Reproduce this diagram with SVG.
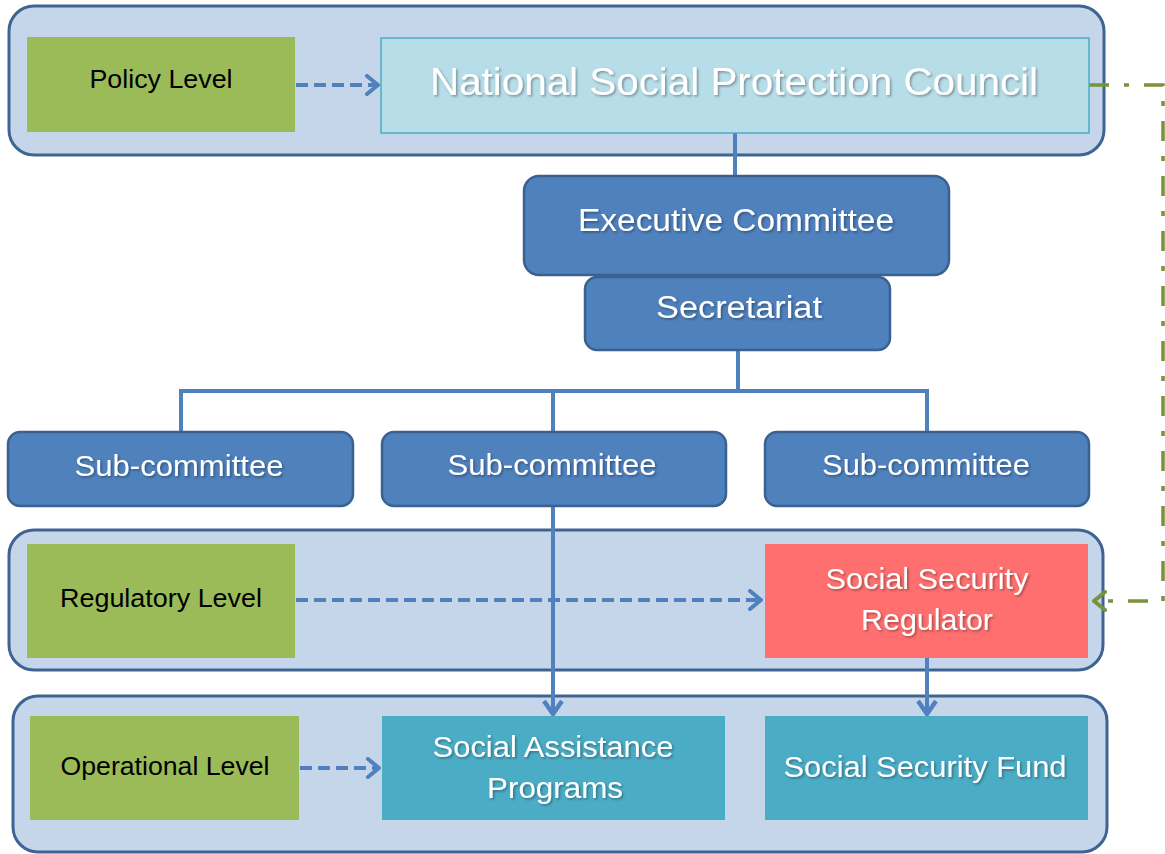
<svg xmlns="http://www.w3.org/2000/svg" width="1165" height="854" viewBox="0 0 1165 854">
<style>
.panel{fill:#C5D5EA;stroke:#3E6493;stroke-width:3}
.lvl{fill:#9BBB59}
.lvlt{font-family:"Liberation Sans",Arial,sans-serif;font-size:25px;fill:#000;text-anchor:middle}
.blue{fill:#4F81BD;stroke:#3A6190;stroke-width:2.5}
.wt{font-family:"Liberation Sans",Arial,sans-serif;fill:#fff;text-anchor:middle;filter:url(#ts)}
.conn{fill:none;stroke:#4F81BD;stroke-width:4}
.dash{fill:none;stroke:#4F81BD;stroke-width:4;stroke-dasharray:12 6}
.green{fill:none;stroke:#77933C;stroke-width:3.5;stroke-dasharray:20 15 5 15}
</style>
<defs>
<filter id="ts" x="-5%" y="-20%" width="110%" height="140%">
<feDropShadow dx="1.5" dy="1.5" stdDeviation="0.8" flood-color="#000" flood-opacity="0.35"/>
</filter>
<marker id="ab" viewBox="0 0 16 22" refX="14" refY="11" markerWidth="16" markerHeight="22" markerUnits="userSpaceOnUse" orient="auto">
<path d="M3,2 L14,11 L3,20" fill="none" stroke="#4F81BD" stroke-width="4" stroke-linecap="round" stroke-linejoin="round"/>
</marker>
<marker id="abv" viewBox="0 0 18 22" refX="16" refY="11" markerWidth="18" markerHeight="22" markerUnits="userSpaceOnUse" orient="auto">
<path d="M3,2 L16,11 L3,20" fill="none" stroke="#4F81BD" stroke-width="4.5" stroke-linejoin="miter"/>
</marker>
<marker id="ag" viewBox="0 0 16 22" refX="14" refY="11" markerWidth="16" markerHeight="22" markerUnits="userSpaceOnUse" orient="auto">
<path d="M3,2 L14,11 L3,20" fill="none" stroke="#77933C" stroke-width="4" stroke-linecap="round" stroke-linejoin="round"/>
</marker>
</defs>

<g id="panel-policy"><rect class="panel" x="9" y="6" width="1095" height="149" rx="25"/></g>
<g id="panel-regulatory"><rect class="panel" x="9" y="530" width="1094" height="140" rx="25"/></g>
<g id="panel-operational"><rect class="panel" x="13" y="696" width="1094" height="156" rx="25"/></g>

<g id="connectors">
<line class="dash" x1="296" y1="85" x2="378" y2="85" marker-end="url(#ab)"/>
<line class="dash" x1="296" y1="600" x2="761" y2="600" marker-end="url(#ab)"/>
<line class="dash" x1="300" y1="768" x2="379" y2="768" marker-end="url(#ab)"/>
<line class="conn" x1="735" y1="133" x2="735" y2="177"/>
<polyline class="conn" points="738,350 738,389"/>
<polyline class="conn" points="181,432 181,391 927,391 927,432"/>
<line class="conn" x1="553" y1="391" x2="553" y2="432"/>
<line class="conn" x1="553" y1="506" x2="553" y2="714" marker-end="url(#abv)"/>
<line class="conn" x1="927" y1="658" x2="927" y2="714" marker-end="url(#abv)"/>
<polyline class="green" points="1089,85 1163,85 1163,601 1094,601" marker-end="url(#ag)"/>
</g>

<g id="policy-level"><rect class="lvl" x="27" y="37" width="268" height="95"/><text class="lvlt" x="161" y="88" textLength="143" lengthAdjust="spacingAndGlyphs">Policy Level</text></g>
<g id="nspc"><rect x="381" y="38" width="708" height="95" fill="#B7DDE8" stroke="#4BACC6" stroke-width="1.5"/><text class="wt" x="734" y="95" font-size="39" textLength="608" lengthAdjust="spacingAndGlyphs">National Social Protection Council</text></g>
<g id="exec"><rect class="blue" x="524" y="176" width="425" height="99" rx="15"/><text class="wt" x="736" y="231" font-size="31" textLength="316" lengthAdjust="spacingAndGlyphs">Executive Committee</text></g>
<g id="secretariat"><rect class="blue" x="585" y="277" width="305" height="73" rx="12"/><text class="wt" x="739" y="318" font-size="31" textLength="166" lengthAdjust="spacingAndGlyphs">Secretariat</text></g>
<g id="sub1"><rect class="blue" x="8" y="432" width="345" height="74" rx="12"/><text class="wt" x="179" y="476" font-size="29" textLength="209" lengthAdjust="spacingAndGlyphs">Sub-committee</text></g>
<g id="sub2"><rect class="blue" x="382" y="432" width="344" height="74" rx="12"/><text class="wt" x="552" y="475" font-size="29" textLength="209" lengthAdjust="spacingAndGlyphs">Sub-committee</text></g>
<g id="sub3"><rect class="blue" x="765" y="432" width="324" height="74" rx="12"/><text class="wt" x="926" y="475" font-size="29" textLength="208" lengthAdjust="spacingAndGlyphs">Sub-committee</text></g>
<g id="regulatory-level"><rect class="lvl" x="27" y="544" width="268" height="114"/><text class="lvlt" x="161" y="607" textLength="202" lengthAdjust="spacingAndGlyphs">Regulatory Level</text></g>
<g id="regulator"><rect x="765" y="544" width="323" height="114" fill="#FF6F6F"/><text class="wt" x="927" y="589" font-size="29" textLength="203" lengthAdjust="spacingAndGlyphs">Social Security</text><text class="wt" x="927" y="630" font-size="29" textLength="132" lengthAdjust="spacingAndGlyphs">Regulator</text></g>
<g id="operational-level"><rect class="lvl" x="30" y="716" width="269" height="104"/><text class="lvlt" x="165" y="775" textLength="209" lengthAdjust="spacingAndGlyphs">Operational Level</text></g>
<g id="social-assistance"><rect x="382" y="716" width="343" height="104" fill="#4BACC6"/><text class="wt" x="553" y="757" font-size="29" textLength="241" lengthAdjust="spacingAndGlyphs">Social Assistance</text><text class="wt" x="555" y="798" font-size="29" textLength="136" lengthAdjust="spacingAndGlyphs">Programs</text></g>
<g id="ss-fund"><rect x="765" y="716" width="323" height="104" fill="#4BACC6"/><text class="wt" x="925" y="777" font-size="29" textLength="283" lengthAdjust="spacingAndGlyphs">Social Security Fund</text></g>
</svg>
